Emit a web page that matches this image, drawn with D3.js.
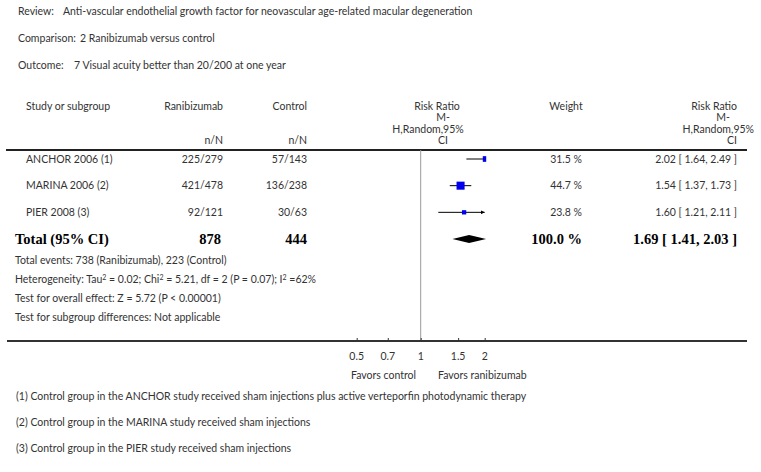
<!DOCTYPE html>
<html>
<head>
<meta charset="utf-8">
<script src="https://cdn.jsdelivr.net/npm/d3@7"></script>
<style>
  body { margin: 0; background: #fff; }
  svg text { font-family: Lato, "Open Sans", sans-serif; font-size: 10.5px; fill: #333; }
  svg text.bold { font-family: "Liberation Serif", "DejaVu Serif", serif; font-weight: bold; font-size: 14.5px; fill: #000; }
</style>
</head>
<body>
<div id="chart"></div>
<script>

// header info
let headLabels = ['Review:', 'Comparison:', 'Outcome:']
let headValues = ['Anti-vascular endothelial growth factor for neovascular age-related macular degeneration',
                  '2 Ranibizumab versus control',
                  '7 Visual acuity better than 20/200 at one year']

// studies
let studies = ['ANCHOR 2006 (1)', 'MARINA 2006 (2)', 'PIER 2008 (3)']
let ranibizumab = ['225/279', '421/478', '92/121']
let control = ['57/143', '136/238', '30/63']
let rr = [2.02, 1.54, 1.60]
let rrLow = [1.64, 1.37, 1.21]
let rrHigh = [2.49, 1.73, 2.11]
let weights = [31.5, 44.7, 23.8]

// pooled
let total = {label: 'Total (95% CI)', rani: '878', ctrl: '444', weight: 100.0, rr: 1.69, lo: 1.41, hi: 2.03}
let totalNotes = ['Total events: 738 (Ranibizumab), 223 (Control)',
                  null,
                  'Test for overall effect: Z = 5.72 (P < 0.00001)',
                  'Test for subgroup differences: Not applicable']

let ticks = [0.5, 0.7, 1, 1.5, 2]
let favors = ['Favors control', 'Favors ranibizumab']

let footnotes = ['(1) Control group in the ANCHOR study received sham injections plus active verteporfin photodynamic therapy',
                 '(2) Control group in the MARINA study received sham injections',
                 '(3) Control group in the PIER study received sham injections']

let width = 761, height = 472

let svg = d3.select('#chart').append('svg')
    .attr('width', width)
    .attr('height', height)

let fmt = d3.format('.2f')

// header block
headLabels.forEach(function(d, i){
    let y = 15 + i * 27
    svg.append('text').attr('x', 18).attr('y', y).text(d)
    svg.append('text').attr('x', [63, 80, 74][i]).attr('y', y).text(headValues[i])
})

// column headers
svg.append('text').attr('x', 26).attr('y', 110).text('Study or subgroup')
svg.append('text').attr('x', 223).attr('y', 110).attr('text-anchor', 'end').text('Ranibizumab')
svg.append('text').attr('x', 307).attr('y', 110).attr('text-anchor', 'end').text('Control')
svg.append('text').attr('x', 223).attr('y', 144).attr('text-anchor', 'end').text('n/N')
svg.append('text').attr('x', 307).attr('y', 144).attr('text-anchor', 'end').text('n/N')

let rrHead = ['Risk Ratio', 'M-', 'H,Random,95%', 'CI']
let rrHeadY = [110, 121, 133, 144]
rrHead.forEach(function(d, i){
    svg.append('text').attr('x', [437, 443, 428, 443][i]).attr('y', rrHeadY[i])
        .attr('text-anchor', 'middle').text(d)
    svg.append('text').attr('x', [737, 730, 754, 737][i]).attr('y', rrHeadY[i])
        .attr('text-anchor', 'end').text(d)
})
svg.append('text').attr('x', 566).attr('y', 110).attr('text-anchor', 'middle').text('Weight')

// rules
svg.append('line')
    .attr('x1', 6).attr('x2', 747).attr('y1', 150).attr('y2', 150)
    .attr('stroke', '#222').attr('stroke-width', 2)

let xScale = d3.scaleLog().domain([0.5, 2]).range([356.7, 484.7])
let yRow = d3.scaleLinear().domain([0, 3]).range([159, 239])
let size = d3.scaleLinear().domain([0, 100]).range([0, 18])

let axisY = 341

svg.append('line')
    .attr('x1', xScale(1)).attr('x2', xScale(1))
    .attr('y1', 150).attr('y2', axisY)
    .attr('stroke', '#999').attr('stroke-width', 1)

// clip for forest marks
svg.append('clipPath').attr('id', 'plotclip')
    .append('rect')
    .attr('x', xScale(0.5) - 1.5).attr('y', 151)
    .attr('width', xScale(2) - xScale(0.5) + 3).attr('height', axisY - 151)

svg.append('defs').append('marker')
    .attr('id', 'arrow')
    .attr('viewBox', '0 0 6 6')
    .attr('refX', 6).attr('refY', 3)
    .attr('markerWidth', 4).attr('markerHeight', 4)
    .attr('orient', 'auto')
    .append('path').attr('d', 'M0,0 L6,3 L0,6 Z').attr('fill', '#000')

// study rows
studies.forEach(function(d, i){
    let y = yRow(i)
    svg.append('text').attr('x', 26).attr('y', y).attr('dy', '0.35em').text(d)
    svg.append('text').attr('x', 223).attr('y', y).attr('dy', '0.35em').attr('text-anchor', 'end').text(ranibizumab[i])
    svg.append('text').attr('x', 307).attr('y', y).attr('dy', '0.35em').attr('text-anchor', 'end').text(control[i])
    svg.append('text').attr('x', 582).attr('y', y).attr('dy', '0.35em').attr('text-anchor', 'end').text(weights[i].toFixed(1) + ' %')
    svg.append('text').attr('x', 737).attr('y', y).attr('dy', '0.35em').attr('text-anchor', 'end')
        .text(fmt(rr[i]) + ' [ ' + fmt(rrLow[i]) + ', ' + fmt(rrHigh[i]) + ' ]')

    let lo = Math.max(rrLow[i], 0.5), hi = Math.min(rrHigh[i], 2)
    let ci = svg.append('line')
        .attr('x1', xScale(lo)).attr('x2', xScale(hi))
        .attr('y1', y).attr('y2', y)
        .attr('stroke', '#000').attr('stroke-width', 1)
    if(rrHigh[i] > 2 && rr[i] < 2) ci.attr('marker-end', 'url(#arrow)')

    let s = size(weights[i])
    svg.append('rect')
        .attr('clip-path', 'url(#plotclip)')
        .attr('x', xScale(rr[i]) - s / 2).attr('y', y - s / 2)
        .attr('width', s).attr('height', s)
        .attr('fill', '#0000ee')
})

// total row
let ty = yRow(3)
svg.append('text').attr('class', 'bold').attr('x', 15).attr('y', ty).attr('dy', '0.35em').text(total.label)
svg.append('text').attr('class', 'bold').attr('x', 221).attr('y', ty).attr('dy', '0.35em').attr('text-anchor', 'end').text(total.rani)
svg.append('text').attr('class', 'bold').attr('x', 307).attr('y', ty).attr('dy', '0.35em').attr('text-anchor', 'end').text(total.ctrl)
svg.append('text').attr('class', 'bold').attr('x', 582).attr('y', ty).attr('dy', '0.35em').attr('text-anchor', 'end').text(total.weight.toFixed(1) + ' %')
svg.append('text').attr('class', 'bold').attr('x', 737).attr('y', ty).attr('dy', '0.35em').attr('text-anchor', 'end')
    .text(fmt(total.rr) + ' [ ' + fmt(total.lo) + ', ' + fmt(total.hi) + ' ]')

svg.append('path')
    .attr('clip-path', 'url(#plotclip)')
    .attr('d', 'M' + xScale(total.lo) + ',' + ty +
               'L' + xScale(total.rr) + ',' + (ty - 4) +
               'L' + xScale(total.hi) + ',' + ty +
               'L' + xScale(total.rr) + ',' + (ty + 4) + 'Z')
    .attr('fill', '#000')

// notes under total
let noteY = [264, 283, 302, 321]
totalNotes.forEach(function(d, i){
    if(d) svg.append('text').attr('x', 15).attr('y', noteY[i]).text(d)
})
let het = svg.append('text').attr('x', 15).attr('y', noteY[1])
let hetParts = [['Heterogeneity: Tau', ''], ['2', 'sup'], [' = 0.02; Chi', ''], ['2', 'sup'],
                [' = 5.21, df = 2 (P = 0.07); I', ''], ['2', 'sup'], [' =62%', '']]
hetParts.forEach(function(p){
    let t = het.append('tspan').text(p[0])
    if(p[1] == 'sup') t.attr('font-size', '7px').attr('baseline-shift', '40%')
})

// bottom axis
svg.append('line')
    .attr('x1', 7).attr('x2', 747).attr('y1', axisY).attr('y2', axisY)
    .attr('stroke', '#333').attr('stroke-width', 2)

let axis = svg.append('g')
    .attr('transform', 'translate(0,' + axisY + ')')
    .call(d3.axisTop(xScale).tickValues(ticks).tickSize(3).tickFormat(''))
axis.select('.domain').remove()
axis.selectAll('line').attr('stroke', '#333')

ticks.forEach(function(t){
    svg.append('text').attr('x', xScale(t)).attr('y', 360).attr('text-anchor', 'middle')
        .text(String(t))
})

svg.append('text').attr('x', 351).attr('y', 379).text(favors[0])
svg.append('text').attr('x', 438).attr('y', 379).text(favors[1])

// footnotes
footnotes.forEach(function(d, i){
    svg.append('text').attr('x', 16).attr('y', 400 + i * 26).text(d)
})

</script>
</body>
</html>
